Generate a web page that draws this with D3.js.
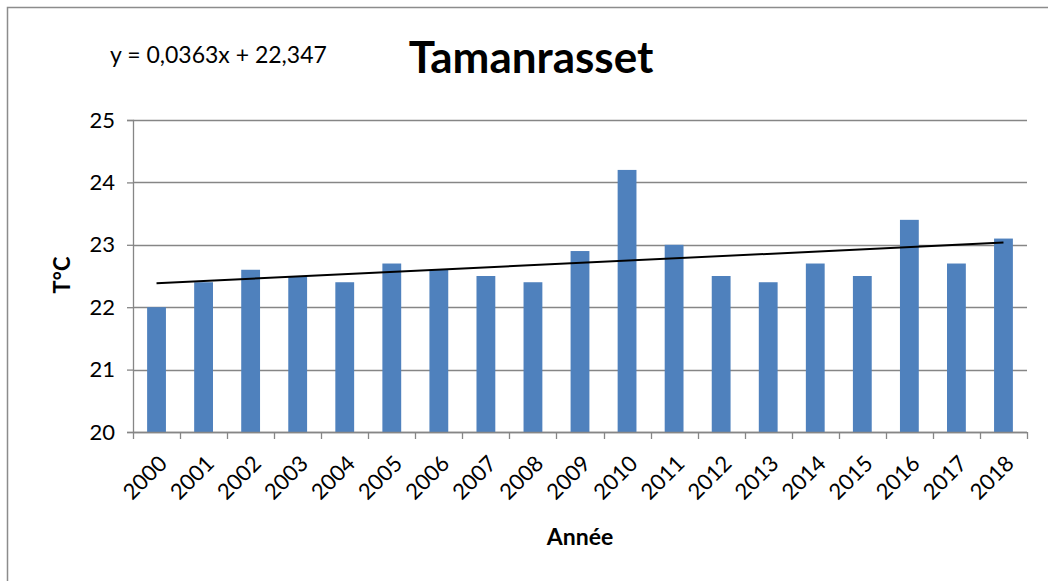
<!DOCTYPE html>
<html>
<head>
<meta charset="utf-8">
<script src="https://cdn.jsdelivr.net/npm/d3@7"></script>
<style>
  body { margin: 0; background: #fff; }
  text { font-family: Lato, "Open Sans", sans-serif; fill: #000; }
</style>
</head>
<body>
<div id="chart"></div>
<script>
const years = ["2000", "2001", "2002", "2003", "2004", "2005", "2006", "2007", "2008", "2009",
               "2010", "2011", "2012", "2013", "2014", "2015", "2016", "2017", "2018"];
const temps = [22.0, 22.4, 22.6, 22.5, 22.4, 22.7, 22.6, 22.5, 22.4, 22.9,
               24.2, 23.0, 22.5, 22.4, 22.7, 22.5, 23.4, 22.7, 23.1];
const yTicks = [20, 21, 22, 23, 24, 25];
const slope = 0.0363, intercept = 22.347;

const margin = {top: 120, right: 21, bottom: 149, left: 133},
      W = 1048, H = 581,
      width = W - margin.left - margin.right,
      height = H - margin.top - margin.bottom;

const root = d3.select("#chart").append("svg")
  .attr("width", W)
  .attr("height", H);

// chart frame (only top and left edges visible)
root.append("rect")
  .attr("x", 7.5).attr("y", 7.5)
  .attr("width", 1100).attr("height", 700)
  .attr("fill", "none")
  .attr("stroke", "#8c8c8c")
  .attr("stroke-width", 1.5);

const svg = root.append("g")
  .attr("transform", `translate(${margin.left},${margin.top})`);

const x = d3.scaleBand().domain(years).range([0, width]).paddingInner(0.6).paddingOuter(0.3);
const xEdge = d3.scaleBand().domain(years).range([0, width]);
const y = d3.scaleLinear().domain([20, 25]).range([height, 0]);

// gridlines
svg.append("g")
  .selectAll("line")
  .data(yTicks)
  .enter().append("line")
  .attr("x1", 0).attr("x2", width)
  .attr("y1", d => Math.round(y(d)) + 0.5)
  .attr("y2", d => Math.round(y(d)) + 0.5)
  .attr("stroke", "#868686")
  .attr("stroke-width", 1.3);

// bars
svg.selectAll(".bar")
  .data(temps)
  .enter().append("rect")
  .attr("class", "bar")
  .attr("x", (d, i) => x(years[i]))
  .attr("width", x.bandwidth())
  .attr("y", d => y(d))
  .attr("height", d => height - y(d))
  .attr("fill", "#4f81bd");

// y axis
const yAxis = svg.append("g")
  .call(d3.axisLeft(y).tickValues(yTicks).tickSize(6).tickPadding(12).tickFormat(d3.format("d")));
yAxis.select(".domain").attr("stroke", "#868686").attr("stroke-width", 1.3);
yAxis.selectAll(".tick line").attr("stroke", "#868686").attr("stroke-width", 1.3);
yAxis.selectAll("text").style("font-size", "22px").style("font-family", "Lato, sans-serif");

// x axis: ticks at band edges
const xAxis = svg.append("g").attr("transform", `translate(0,${height})`);
xAxis.append("line")
  .attr("x1", 0).attr("x2", width)
  .attr("y1", 0.5).attr("y2", 0.5)
  .attr("stroke", "#868686").attr("stroke-width", 1.3);
const edges = years.map(d => xEdge(d)).concat([width]);
xAxis.selectAll(".edge")
  .data(edges)
  .enter().append("line")
  .attr("class", "edge")
  .attr("x1", d => Math.round(d) + 0.5).attr("x2", d => Math.round(d) + 0.5)
  .attr("y1", 0).attr("y2", 7)
  .attr("stroke", "#868686").attr("stroke-width", 1.3);
xAxis.selectAll(".lbl")
  .data(years)
  .enter().append("text")
  .attr("class", "lbl")
  .attr("transform", d => `translate(${x(d) + x.bandwidth() / 2 + 1},${22}) rotate(-45)`)
  .attr("text-anchor", "end")
  .attr("dy", "0.7em")
  .style("font-size", "22px")
  .text(d => d);

// trend line
const trend = years.map((d, i) => ({year: d, v: slope * (i + 1) + intercept}));
svg.append("path")
  .datum([trend[0], trend[trend.length - 1]])
  .attr("d", d3.line().x(d => x(d.year) + x.bandwidth() / 2).y(d => y(d.v)))
  .attr("stroke", "#000")
  .attr("stroke-width", 2)
  .attr("fill", "none");

// labels
root.append("text")
  .attr("x", 531).attr("y", 73)
  .attr("text-anchor", "middle")
  .style("font-size", "44px")
  .style("font-weight", "bold")
  .text("Tamanrasset");

root.append("text")
  .attr("x", 110).attr("y", 63)
  .style("font-size", "23px")
  .text("y = 0,0363x + 22,347");

root.append("text")
  .attr("transform", `translate(70,${275}) rotate(-90)`)
  .attr("text-anchor", "middle")
  .style("font-size", "22px")
  .style("font-weight", "bold")
  .text("T°C");

root.append("text")
  .attr("x", margin.left + width / 2).attr("y", 545)
  .attr("text-anchor", "middle")
  .style("font-size", "23px")
  .style("font-weight", "bold")
  .text("Année");
</script>
</body>
</html>
